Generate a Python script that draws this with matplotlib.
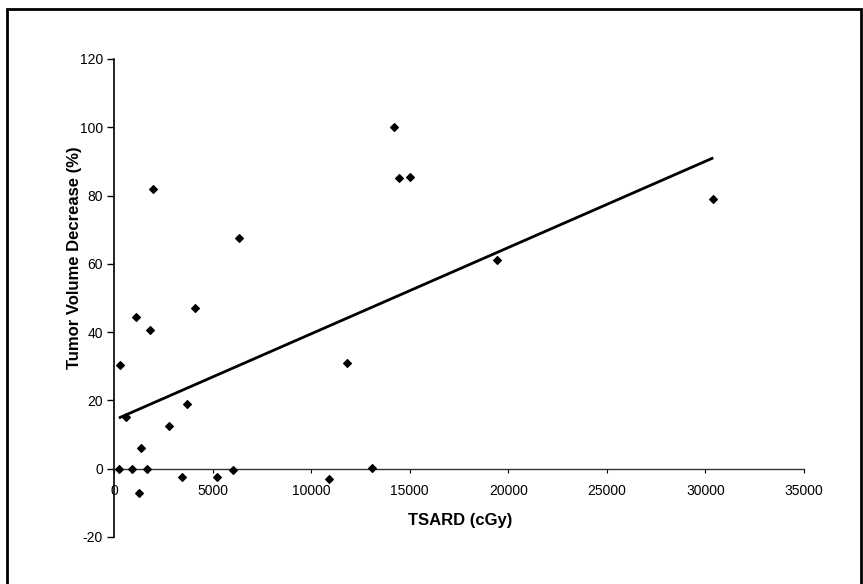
import numpy as np
import matplotlib
matplotlib.use("Agg")
import matplotlib.pyplot as plt
from matplotlib.patches import Rectangle

plt.rcParams["font.family"] = ["Liberation Sans", "DejaVu Sans"]

# TSARD (cGy) vs tumor volume decrease (%)
tsard = [300, 600, 1100, 1850, 2000, 4100, 3700, 2800, 11800, 250,
         900, 1650, 1350, 1250, 3450, 5200, 6050, 6350, 14200, 14450,
         15000, 19450, 30400, 10900, 13100]
decrease = [30.5, 15, 44.5, 40.5, 82, 47, 19, 12.5, 31, 0,
            0, 0, 6, -7, -2.5, -2.5, -0.3, 67.5, 100, 85,
            85.5, 61, 79, -3, 0.3]

x_ticks = [0, 5000, 10000, 15000, 20000, 25000, 30000, 35000]
y_ticks = [-20, 0, 20, 40, 60, 80, 100, 120]


def main():
    fig = plt.figure(figsize=(8.63, 5.84), dpi=100)
    ax = fig.add_axes([114 / 863, 1 - 537 / 584, (804 - 114) / 863, (537 - 59) / 584])

    x = np.array(tsard)
    y = np.array(decrease)

    # linear trendline over the data range
    slope, intercept = np.polyfit(x, y, 1)
    xs = np.array([x.min(), x.max()])
    ax.plot(xs, slope * xs + intercept, color="black", lw=2, solid_capstyle="butt")

    ax.scatter(x, y, marker="D", s=15, color="black", zorder=3)

    ax.set_xlim(0, 35000)
    ax.set_ylim(-20, 120)
    ax.set_xticks(x_ticks)
    ax.set_yticks(y_ticks)
    ax.set_xticklabels([str(v) for v in x_ticks], fontsize=10)
    ax.set_yticklabels([str(v) for v in y_ticks], fontsize=10)

    ax.spines["top"].set_visible(False)
    ax.spines["right"].set_visible(False)
    ax.spines["bottom"].set_position(("data", 0))
    ax.spines["left"].set_linewidth(1.2)
    ax.spines["bottom"].set_linewidth(1.0)
    ax.spines["bottom"].set_color("#333333")
    ax.tick_params(axis="y", direction="out", length=5, width=1, pad=3)
    ax.tick_params(axis="x", direction="out", length=3, width=0.8, pad=8)

    fig.text(75 / 863, 1 - 258 / 584, "Tumor Volume Decrease (%)", rotation=90,
             ha="center", va="center", fontsize=12, fontweight="bold")
    fig.text(460 / 863, 1 - 521 / 584, "TSARD (cGy)", ha="center", va="center",
             fontsize=12, fontweight="bold")

    # outer frame
    fig.patches.append(Rectangle((7 / 863, -0.01), (861 - 7) / 863, 1 - 9 / 584 + 0.01,
                                 transform=fig.transFigure, fill=False,
                                 edgecolor="black", lw=2))

    fig.savefig("out.png", dpi=100)


if __name__ == "__main__":
    main()
